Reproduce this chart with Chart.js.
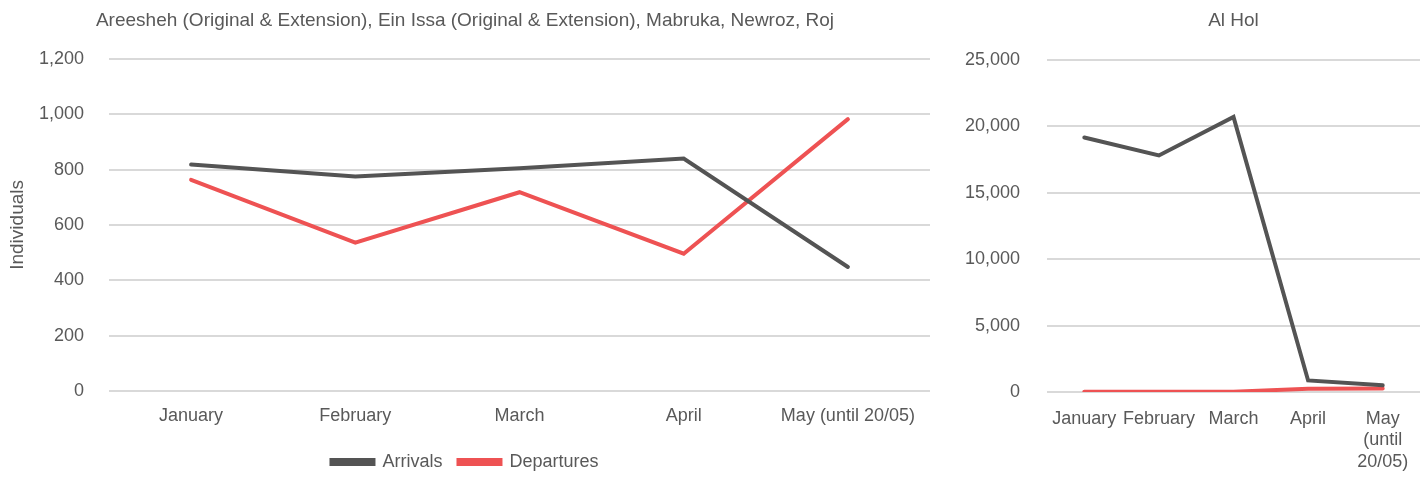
<!DOCTYPE html>
<html>
<head>
<meta charset="utf-8">
<script src="https://cdn.jsdelivr.net/npm/chart.js@4"></script>
<style>
  body { margin: 0; background: #fff; }
  #left { position: absolute; left: 0; top: 0; width: 935px; height: 480px; }
  #right { position: absolute; left: 945px; top: 0; width: 482px; height: 480px; }
</style>
</head>
<body>
<div id="left"><canvas id="campsChart"></canvas></div>
<div id="right"><canvas id="alholChart"></canvas></div>
<script>
const months = ['January', 'February', 'March', 'April', 'May (until 20/05)'];
const monthsWrapped = ['January', 'February', 'March', 'April', ['May', '(until', '20/05)']];

const campsArrivals = [818, 775, 805, 840, 448];
const campsDepartures = [763, 536, 718, 496, 982];

const alholArrivals = [19150, 17800, 20700, 870, 500];
const alholDepartures = [10, 10, 20, 250, 270];

const darkGray = '#545454';
const red = '#ee5253';
const textColor = '#595959';

Chart.defaults.font.family = "'Liberation Sans', Arial, sans-serif";
Chart.defaults.color = textColor;

function lineSet(label, data, color) {
    return {
        label: label,
        data: data,
        borderColor: color,
        backgroundColor: color,
        borderWidth: 4,
        pointRadius: 0,
        tension: 0,
        borderCapStyle: 'round'
    };
}

const fmt = v => v.toLocaleString('en-US');

new Chart(document.getElementById('campsChart').getContext('2d'), {
    type: 'line',
    data: {
        labels: months,
        datasets: [
            lineSet('Arrivals', campsArrivals, darkGray),
            lineSet('Departures', campsDepartures, red)
        ]
    },
    options: {
        responsive: true,
        maintainAspectRatio: false,
        animation: false,
        layout: { padding: { left: 0, right: 5, top: 0, bottom: -1 } },
        plugins: {
            title: {
                display: true,
                text: 'Areesheh (Original & Extension), Ein Issa (Original & Extension), Mabruka, Newroz, Roj',
                color: textColor,
                font: { size: 19, weight: 'normal' },
                padding: { top: 9, bottom: 27 }
            },
            legend: {
                position: 'bottom',
                labels: {
                    boxWidth: 42,
                    boxHeight: 4,
                    color: textColor,
                    font: { size: 18 },
                    padding: 16
                }
            },
            tooltip: { enabled: false }
        },
        scales: {
            x: {
                offset: true,
                grid: { display: false, drawTicks: false },
                border: { display: false },
                ticks: { font: { size: 18 }, color: textColor, padding: 14, maxRotation: 0, autoSkip: false },
                afterFit: scale => { scale.height = 46; }
            },
            y: {
                min: 0,
                max: 1200,
                grid: { color: '#d9d9d9', lineWidth: 2, drawTicks: false },
                border: { display: false },
                ticks: { stepSize: 200, font: { size: 18 }, color: textColor, padding: 25, callback: fmt },
                title: { display: true, text: 'Individuals', font: { size: 19 }, color: textColor, padding: { top: 6, bottom: 0 } },
                afterFit: scale => { scale.width = 109; }
            }
        }
    }
});

new Chart(document.getElementById('alholChart').getContext('2d'), {
    type: 'line',
    data: {
        labels: monthsWrapped,
        datasets: [
            lineSet('Arrivals', alholArrivals, darkGray),
            lineSet('Departures', alholDepartures, red)
        ]
    },
    options: {
        responsive: true,
        maintainAspectRatio: false,
        animation: false,
        layout: { padding: { left: 0, right: 7, top: 0, bottom: 0 } },
        plugins: {
            title: {
                display: true,
                fullSize: false,
                text: 'Al Hol',
                color: textColor,
                font: { size: 19, weight: 'normal' },
                padding: { top: 9, bottom: 28 }
            },
            legend: { display: false },
            tooltip: { enabled: false }
        },
        scales: {
            x: {
                offset: true,
                grid: { display: false, drawTicks: false },
                border: { display: false },
                ticks: { font: { size: 18 }, color: textColor, padding: 16, maxRotation: 0, autoSkip: false },
                afterFit: scale => { scale.height = 88; }
            },
            y: {
                min: 0,
                max: 25000,
                grid: { color: '#d9d9d9', lineWidth: 2, drawTicks: false },
                border: { display: false },
                ticks: { stepSize: 5000, font: { size: 18 }, color: textColor, padding: 27, callback: fmt },
                afterFit: scale => { scale.width = 102; }
            }
        }
    }
});
</script>
</body>
</html>
